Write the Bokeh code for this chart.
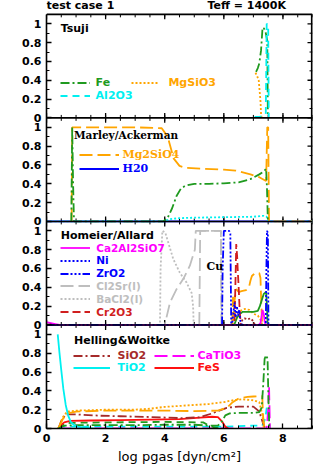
import numpy as np
from bokeh.plotting import figure
from bokeh.models import (Range1d, FixedTicker, Span, Label, Legend, LegendItem)
from bokeh.embed import file_html
from bokeh.resources import INLINE

# ---------------- axes / ticks ----------------
x_major_ticks = [0, 2, 4, 6, 8]
x_minor_step = 0.5
y_major_ticks = [0.0, 0.2, 0.4, 0.6, 0.8, 1.0]
y_tick_labels = ["0", "0.2", "0.4", "0.6", "0.8", "1"]
y_minor_ticks = [0.1, 0.3, 0.5, 0.7, 0.9]
panel_names = ["Tsuji", "Marley/Ackerman", "Homeier/Allard", "Helling&Woitke"]
header_left = "test case 1"
header_right = "Teff = 1400K"

# ---------------- Panel 1: Tsuji ----------------
tsuji_fe_x = [7.09, 7.15, 7.20, 7.26, 7.31, 7.36, 7.42, 7.47, 7.49]
tsuji_fe_y = [0.49, 0.53, 0.58, 0.72, 0.96, 0.95, 0.90, 0.82, 0.0]
tsuji_mgsio3_x = [7.07, 7.12, 7.18, 7.24, 7.26, 7.28]
tsuji_mgsio3_y = [0.48, 0.45, 0.40, 0.18, 0.04, 0.0]
tsuji_al2o3_x = [7.04, 7.20, 7.35, 7.42, 7.45, 7.50, 7.52]
tsuji_al2o3_y = [0.01, 0.01, 0.02, 0.05, 1.0, 0.99, 0.0]

# ---------------- Panel 2: Marley/Ackerman ----------------
marley_mg2sio4_x = [0.85, 0.87, 0.95, 2.0, 3.0, 3.9, 4.1, 4.3, 4.5, 4.7, 5.3, 6.0,
                    6.4, 6.9, 7.2, 7.43, 7.47, 7.50, 7.53, 9.0]
marley_mg2sio4_y = [0.0, 1.0, 1.0, 1.0, 1.0, 0.99, 0.9, 0.67, 0.59, 0.57, 0.56, 0.55,
                    0.54, 0.50, 0.47, 0.43, 1.0, 1.0, 0.0, 0.0]
marley_fe_x = [0.84, 0.87, 0.90, 0.93, 3.95, 4.1, 4.25, 4.4, 4.55, 4.7, 5.0, 5.5,
               6.0, 6.5, 6.9, 7.2, 7.35, 7.43, 7.46, 7.49]
marley_fe_y = [0.0, 1.0, 0.4, 0.0, 0.0, 0.04, 0.14, 0.27, 0.35, 0.38, 0.40, 0.40,
               0.405, 0.415, 0.45, 0.50, 0.53, 0.56, 0.35, 0.0]
marley_al2o3_x = [0.0, 3.95, 4.2, 4.5, 5.0, 6.0, 7.0, 7.35, 7.45, 7.5, 9.0]
marley_al2o3_y = [0.0, 0.0, 0.025, 0.035, 0.04, 0.045, 0.05, 0.06, 0.05, 0.0, 0.0]
marley_h2o_x = [0.0, 9.0]
marley_h2o_y = [0.0, 0.0]

# ---------------- Panel 3: Homeier/Allard ----------------
homeier_ca2al2sio7_x = [0.0, 0.15, 0.3, 0.45, 7.18, 7.24, 7.28, 7.31, 7.35, 7.38, 7.42, 9.0]
homeier_ca2al2sio7_y = [0.03, 0.02, 0.01, 0.0, 0.0, 0.02, 0.10, 0.16, 0.12, 0.04, 0.0, 0.0]
homeier_ni_x = [0.0, 6.28, 6.32, 6.36, 6.40, 6.44, 6.48, 6.52, 6.56, 6.62, 9.0]
homeier_ni_y = [0.0, 0.0, 0.12, 0.24, 0.08, 0.20, 0.10, 0.16, 0.04, 0.0, 0.0]
homeier_zro2_x = [0.0, 5.94, 5.96, 6.0, 6.18, 6.22, 6.25, 7.42, 7.44, 7.46, 7.49, 7.51, 9.0]
homeier_zro2_y = [0.0, 0.0, 0.6, 1.0, 1.0, 0.97, 0.0, 0.0, 0.6, 1.0, 0.98, 0.0, 0.0]
homeier_cl2sr_x = [0.0, 4.0, 4.18, 4.40, 4.63, 4.85, 5.02, 5.05, 5.90, 5.93, 9.0]
homeier_cl2sr_y = [0.0, 0.0, 0.24, 0.38, 0.49, 0.63, 0.80, 1.0, 1.0, 0.0, 0.0]
homeier_cl2sr_b_x = [5.17, 5.20, 5.90, 5.92]
homeier_cl2sr_b_y = [0.0, 1.0, 1.0, 0.0]
homeier_bacl2_x = [0.0, 3.84, 3.86, 3.92, 4.02, 4.12, 4.29, 4.51, 4.74, 4.91, 4.96, 4.98, 9.0]
homeier_bacl2_y = [0.0, 0.0, 0.6, 1.0, 0.98, 0.875, 0.70, 0.556, 0.45, 0.34, 0.2, 0.0, 0.0]
homeier_cr2o3_x = [0.0, 6.36, 6.40, 6.42, 6.45, 6.47, 6.50, 6.53, 6.57, 9.0]
homeier_cr2o3_y = [0.0, 0.0, 0.55, 0.86, 0.73, 0.59, 0.41, 0.20, 0.0, 0.0]
homeier_mg2sio4_x = [6.28, 6.31, 6.34, 6.38, 6.42, 6.5, 6.6, 6.75, 6.85, 6.9, 6.95,
                     7.05, 7.2, 7.24, 7.27, 7.3]
homeier_mg2sio4_y = [0.0, 0.3, 0.2, 0.3, 0.38, 0.35, 0.36, 0.37, 0.40, 0.47, 0.52,
                     0.55, 0.55, 0.50, 0.20, 0.0]
homeier_fe_x = [6.35, 6.45, 6.55, 6.64, 7.0, 7.15, 7.22, 7.28, 7.35, 7.43, 7.46, 7.48]
homeier_fe_y = [0.0, 0.08, 0.12, 0.14, 0.14, 0.15, 0.20, 0.26, 0.33, 0.35, 0.20, 0.0]
homeier_mgsio3_x = [6.3, 6.35, 6.4, 6.45, 6.55, 6.7, 6.87, 7.0, 7.15, 7.25, 7.3]
homeier_mgsio3_y = [0.0, 0.2, 0.05, 0.12, 0.15, 0.17, 0.16, 0.12, 0.10, 0.05, 0.0]
homeier_sio2_x = [6.55, 6.62, 6.7, 6.8, 6.9, 7.0, 7.05]
homeier_sio2_y = [0.0, 0.05, 0.07, 0.06, 0.07, 0.04, 0.0]

# ---------------- Panel 4: Helling&Woitke ----------------
helling_sio2_x = [0.40, 0.50, 0.65, 1.0, 1.8, 2.5, 3.5, 4.6, 5.2, 5.6, 6.1, 6.5, 7.0,
                  7.2, 7.32, 7.40]
helling_sio2_y = [0.0, 0.08, 0.15, 0.15, 0.136, 0.13, 0.122, 0.11, 0.12, 0.16, 0.22,
                  0.233, 0.233, 0.18, 0.06, 0.0]
helling_tio2_x = [0.38, 0.44, 0.50, 0.57, 0.65, 0.73, 0.82, 0.92, 1.05, 1.3, 1.6]
helling_tio2_y = [1.0, 0.80, 0.62, 0.42, 0.25, 0.14, 0.07, 0.04, 0.02, 0.01, 0.0]
helling_catio3_x = [0.40, 7.45, 7.50, 7.53, 7.56]
helling_catio3_y = [0.0, 0.0, 0.20, 0.45, 0.0]
helling_fes_x = [0.40, 0.50, 0.60, 0.80, 1.5, 2.5, 3.5, 4.5, 5.2, 5.6, 5.8, 5.95,
                 6.05, 6.15]
helling_fes_y = [0.0, 0.04, 0.065, 0.08, 0.085, 0.09, 0.095, 0.10, 0.115, 0.125,
                 0.12, 0.07, 0.02, 0.0]
helling_mgsio3_x = [0.40, 0.55, 0.70, 1.0, 2.0, 3.0, 3.5, 4.0, 4.5, 5.0, 5.5, 6.0,
                    6.3, 6.6, 7.0, 7.2, 7.3, 7.35]
helling_mgsio3_y = [0.0, 0.12, 0.18, 0.19, 0.20, 0.20, 0.21, 0.23, 0.24, 0.25, 0.26,
                    0.28, 0.30, 0.31, 0.30, 0.28, 0.15, 0.0]
helling_mg2sio4_x = [0.40, 0.55, 0.70, 1.0, 2.0, 3.0, 4.0, 5.0, 5.8, 6.1, 6.3, 6.5,
                     6.8, 7.0, 7.3, 7.33, 7.38]
helling_mg2sio4_y = [0.0, 0.10, 0.16, 0.18, 0.19, 0.19, 0.19, 0.185, 0.19, 0.22, 0.28,
                     0.32, 0.335, 0.34, 0.345, 0.12, 0.0]
helling_fe_x = [0.40, 0.60, 1.0, 2.0, 3.0, 4.0, 5.0, 5.5, 5.8, 5.95, 6.05, 6.2, 6.5,
                7.0, 7.2, 7.28, 7.33, 7.38, 7.43, 7.48, 7.51, 7.54]
helling_fe_y = [0.0, 0.03, 0.035, 0.035, 0.035, 0.04, 0.04, 0.03, 0.03, 0.08, 0.14,
                0.16, 0.165, 0.165, 0.175, 0.22, 0.45, 0.74, 0.78, 0.74, 0.30, 0.0]
helling_fe2_x = [0.40, 0.60, 0.80, 2.0, 4.0, 5.3, 5.5, 5.7, 5.9]
helling_fe2_y = [0.0, 0.05, 0.06, 0.065, 0.07, 0.065, 0.03, 0.01, 0.0]
helling_al2o3_x = [0.40, 6.0, 6.5, 7.0, 7.3, 7.4, 7.45, 7.5, 7.55]
helling_al2o3_y = [0.02, 0.02, 0.025, 0.03, 0.03, 0.10, 0.22, 0.20, 0.0]

# ---------------- styles ----------------
GREEN = "#1f9a1f"
ORANGE = "#FFA500"
CYAN = "#00F0F0"
BLUE = "#0000FF"
MAGENTA = "#FF00FF"
GRAY = "#BEBEBE"
DKRED = "#D01E1E"
RED = "#FF1010"
BROWN = "#A52A2A"

D_DASHDOT = "9 3 2 3"
D_DASH = "7 5"
D_DOT = "2 2"
D_LONG = "13 5"
D_DASH3DOT = "8 2 2 2 2 2 2 2"
D_MED = "8 4"

PANEL_H = 1.1
N_PANELS = 4
X_MAX = 9.0
Y_TOP = PANEL_H * N_PANELS
FRAME_W = 266
PANELS_PX = 418
HEADER_PX = 14
BL, BR, BB = 46, 4, 34
PX_X = FRAME_W / X_MAX
PX_Y = PANELS_PX / Y_TOP
Y_END = Y_TOP + HEADER_PX / PX_Y

p = figure(width=BL + FRAME_W + BR, height=HEADER_PX + PANELS_PX + BB,
           x_range=Range1d(0, X_MAX), y_range=Range1d(0, Y_END),
           output_backend="svg", toolbar_location=None,
           min_border_left=BL, min_border_right=BR,
           min_border_top=0, min_border_bottom=BB)
p.grid.visible = False
p.outline_line_color = None
p.background_fill_color = "white"
p.border_fill_color = "white"

TICK_FONT = "DejaVu Sans"
FRAME_LW = 1.6

# y ticks (labels per panel)
y_ticks, y_minor, y_over = [], [], {}
for k in range(N_PANELS):
    off = round(k * PANEL_H, 4)
    for v, lab in zip(y_major_ticks, y_tick_labels):
        t = round(off + v, 4)
        y_ticks.append(t)
        y_over[t] = lab
    for v in y_minor_ticks:
        y_minor.append(round(off + v, 4))
y_ticker = FixedTicker(ticks=y_ticks, minor_ticks=y_minor)

x_minor = [float(v) for v in np.arange(0, X_MAX + 1e-6, x_minor_step)]
x_ticker = FixedTicker(ticks=x_major_ticks, minor_ticks=x_minor)

def style_axis(ax):
    ax.axis_line_color = "black"
    ax.axis_line_width = FRAME_LW
    ax.major_tick_in = 5
    ax.major_tick_out = 0
    ax.minor_tick_in = 3
    ax.minor_tick_out = 0
    ax.major_tick_line_width = 1.3
    ax.minor_tick_line_width = 1.0
    ax.major_tick_line_color = "black"
    ax.minor_tick_line_color = "black"
    ax.major_label_text_font = TICK_FONT
    ax.major_label_text_font_style = "bold"
    ax.major_label_text_font_size = "11px"
    ax.major_label_text_color = "black"
    ax.major_label_standoff = 5

yl = p.yaxis[0]
yl.ticker = y_ticker
yl.bounds = (0, Y_TOP)
yl.major_label_overrides = y_over
style_axis(yl)
xb = p.xaxis[0]
xb.ticker = x_ticker
style_axis(xb)
xb.axis_label = "log pgas [dyn/cm²]"
xb.axis_label_text_font = "DejaVu Sans"
xb.axis_label_text_font_style = "normal"
xb.axis_label_text_font_size = "13px"
xb.axis_label_text_color = "black"
xb.axis_label_standoff = 4

# panel separators and top edge of the frame
for k in range(1, N_PANELS + 1):
    p.add_layout(Span(location=k * PANEL_H, dimension="width", line_color="black",
                      line_width=FRAME_LW))
# right edge of the frame (half of the line is clipped at the frame edge)
p.segment(x0=[X_MAX], x1=[X_MAX], y0=[0], y1=[Y_TOP], line_color="black",
          line_width=2 * FRAME_LW)

# inside ticks on every panel edge (top/bottom of each panel, right side)
maj_len_y = 5 / PX_Y
min_len_y = 3 / PX_Y
for k in range(1, N_PANELS + 1):
    b = k * PANEL_H
    up_maj = maj_len_y if k < N_PANELS else 0
    up_min = min_len_y if k < N_PANELS else 0
    p.segment(x0=x_major_ticks, x1=x_major_ticks,
              y0=[b - maj_len_y] * len(x_major_ticks), y1=[b + up_maj] * len(x_major_ticks),
              line_color="black", line_width=1.3)
    p.segment(x0=x_minor, x1=x_minor,
              y0=[b - min_len_y] * len(x_minor), y1=[b + up_min] * len(x_minor),
              line_color="black", line_width=1.0)
maj_len_x = 5 / PX_X
min_len_x = 3 / PX_X
p.segment(x0=[X_MAX - maj_len_x] * len(y_ticks), x1=[X_MAX] * len(y_ticks),
          y0=y_ticks, y1=y_ticks, line_color="black", line_width=1.3)
p.segment(x0=[X_MAX - min_len_x] * len(y_minor), x1=[X_MAX] * len(y_minor),
          y0=y_minor, y1=y_minor, line_color="black", line_width=1.0)

def draw(xs, ys, panel, color, dash="solid", width=1.8):
    off = (N_PANELS - 1 - panel) * PANEL_H
    return p.line(xs, [v + off for v in ys], line_color=color, line_width=width,
                  line_dash=dash)

def legend(r, text, color, panel, xd, yd, glyph_w=30, standoff=6,
           font="DejaVu Sans", size="11px"):
    off = (N_PANELS - 1 - panel) * PANEL_H
    xs = xd * PX_X
    ys = (yd + off) * PX_Y - 6
    lg = Legend(items=[LegendItem(label=text, renderers=[r])], location=(xs, ys),
                glyph_width=glyph_w, glyph_height=11, label_height=11,
                label_standoff=standoff, padding=0, margin=0, spacing=0,
                border_line_alpha=0, background_fill_alpha=0,
                label_text_color=color, label_text_font=font,
                label_text_font_size=size, label_text_font_style="bold")
    p.add_layout(lg)

def panel_label(text, panel, xd, yd, font="DejaVu Sans", size="11px"):
    off = (N_PANELS - 1 - panel) * PANEL_H
    p.add_layout(Label(x=xd, y=yd + off, text=text, text_font=font,
                       text_font_size=size, text_font_style="bold",
                       text_color="black", text_baseline="middle"))

# ---- Panel 1
r_fe1 = draw(tsuji_fe_x, tsuji_fe_y, 0, GREEN, D_DASHDOT)
r_mgsio3_1 = draw(tsuji_mgsio3_x, tsuji_mgsio3_y, 0, ORANGE, D_DOT)
r_al2o3_1 = draw(tsuji_al2o3_x, tsuji_al2o3_y, 0, CYAN, D_DASH)
panel_label(panel_names[0], 0, 0.48, 0.946)
legend(r_fe1, "Fe", GREEN, 0, 0.46, 0.33)
legend(r_mgsio3_1, "MgSiO3", ORANGE, 0, 2.89, 0.33, glyph_w=28, standoff=9)
legend(r_al2o3_1, "Al2O3", CYAN, 0, 0.46, 0.19)

# ---- Panel 2
r_h2o = draw(marley_h2o_x, marley_h2o_y, 1, BLUE, "solid")
r_al2o3_2 = draw(marley_al2o3_x, marley_al2o3_y, 1, CYAN, D_DOT)
r_mg2sio4_2 = draw(marley_mg2sio4_x, marley_mg2sio4_y, 1, ORANGE, D_LONG)
r_fe2 = draw(marley_fe_x, marley_fe_y, 1, GREEN, D_DASHDOT)
panel_label(panel_names[1], 1, 0.93, 0.918, font="DejaVu Serif", size="10.5px")
legend(r_mg2sio4_2, "Mg2SiO4", ORANGE, 1, 1.10, 0.67, glyph_w=40, standoff=4,
       font="DejaVu Serif")
legend(r_h2o, "H20", BLUE, 1, 1.10, 0.53, glyph_w=40, standoff=4,
       font="DejaVu Serif")

# ---- Panel 3
r_bacl2 = draw(homeier_bacl2_x, homeier_bacl2_y, 2, GRAY, D_DOT)
r_cl2sr = draw(homeier_cl2sr_x, homeier_cl2sr_y, 2, GRAY, D_LONG)
draw(homeier_cl2sr_b_x, homeier_cl2sr_b_y, 2, GRAY, D_LONG)
draw(homeier_sio2_x, homeier_sio2_y, 2, BROWN, D_DOT)
draw(homeier_mgsio3_x, homeier_mgsio3_y, 2, ORANGE, D_DOT)
draw(homeier_mg2sio4_x, homeier_mg2sio4_y, 2, ORANGE, D_LONG)
draw(homeier_fe_x, homeier_fe_y, 2, GREEN, "solid")
r_cr2o3 = draw(homeier_cr2o3_x, homeier_cr2o3_y, 2, DKRED, D_MED)
r_ni = draw(homeier_ni_x, homeier_ni_y, 2, BLUE, D_DOT)
r_ca2 = draw(homeier_ca2al2sio7_x, homeier_ca2al2sio7_y, 2, MAGENTA, "solid")
r_zro2 = draw(homeier_zro2_x, homeier_zro2_y, 2, BLUE, D_DASH3DOT)
panel_label(panel_names[2], 2, 0.48, 0.947)
p.add_layout(Label(x=5.41, y=0.62 + 1 * PANEL_H, text="Cu", text_font="DejaVu Serif",
                   text_font_size="11px", text_font_style="bold", text_color="black",
                   text_baseline="middle"))
legend(r_ca2, "Ca2Al2SiO7", MAGENTA, 2, 0.48, 0.80, size="10.5px")
legend(r_ni, "Ni", BLUE, 2, 0.48, 0.665, size="10.5px")
legend(r_zro2, "ZrO2", BLUE, 2, 0.48, 0.53, size="10.5px")
legend(r_cl2sr, "Cl2Sr(l)", GRAY, 2, 0.48, 0.395, size="10.5px")
legend(r_bacl2, "BaCl2(l)", GRAY, 2, 0.48, 0.26, size="10.5px")
legend(r_cr2o3, "Cr2O3", DKRED, 2, 0.48, 0.125, size="10.5px")

# ---- Panel 4
draw(helling_al2o3_x, helling_al2o3_y, 3, CYAN, D_DASH)
r_catio3 = draw(helling_catio3_x, helling_catio3_y, 3, MAGENTA, D_LONG)
draw(helling_fe2_x, helling_fe2_y, 3, GREEN, D_DASH)
r_fes = draw(helling_fes_x, helling_fes_y, 3, RED, "solid")
r_sio2 = draw(helling_sio2_x, helling_sio2_y, 3, BROWN, D_DASHDOT)
draw(helling_mgsio3_x, helling_mgsio3_y, 3, ORANGE, D_DOT)
draw(helling_mg2sio4_x, helling_mg2sio4_y, 3, ORANGE, D_LONG)
draw(helling_fe_x, helling_fe_y, 3, GREEN, D_DASHDOT)
r_tio2 = draw(helling_tio2_x, helling_tio2_y, 3, CYAN, "solid")
panel_label(panel_names[3], 3, 0.93, 0.93)
legend(r_sio2, "SiO2", BROWN, 3, 0.93, 0.76, glyph_w=37, standoff=7)
legend(r_tio2, "TiO2", CYAN, 3, 0.93, 0.63, glyph_w=37, standoff=7)
legend(r_catio3, "CaTiO3", MAGENTA, 3, 3.67, 0.76, glyph_w=40, standoff=3)
legend(r_fes, "FeS", RED, 3, 3.67, 0.63, glyph_w=40, standoff=3)

# ---- header texts (in the strip above the top panel)
p.add_layout(Label(x=0.0, y=Y_TOP, y_offset=2, text=header_left,
                   text_font="DejaVu Sans", text_font_size="11px",
                   text_font_style="bold", text_color="black",
                   text_baseline="bottom"))
p.add_layout(Label(x=8.1, y=Y_TOP, y_offset=2, text=header_right,
                   text_font="DejaVu Sans", text_font_size="11px",
                   text_font_style="bold", text_color="black",
                   text_baseline="bottom", text_align="right"))

open("out.html", "w").write(file_html(p, INLINE))
